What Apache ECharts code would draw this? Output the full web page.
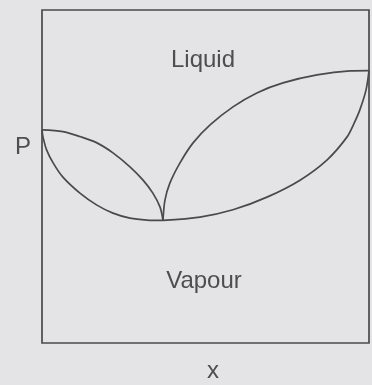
<!DOCTYPE html>
<html>
<head>
<meta charset="utf-8">
<script src="https://cdn.jsdelivr.net/npm/echarts@6/dist/echarts.min.js"></script>
<style>
  html, body { margin: 0; padding: 0; background: #e4e4e6; }
  #chart { width: 372px; height: 385px; }
</style>
</head>
<body>
<div id="chart"></div>
<script>
// Composition x (0..1) and pressure P (arbitrary units) of a binary mixture
// with a minimum-pressure azeotrope.
const axisNames = { x: 'x', y: 'P' };
const regionNames = { upper: 'Liquid', lower: 'Vapour' };

// Left lens: pure component A (x = 0) to the azeotrope
const leftLiquidLine = [
  [0.000, 0.640], [0.064, 0.635], [0.116, 0.620], [0.168, 0.601],
  [0.217, 0.571], [0.269, 0.529], [0.309, 0.489], [0.339, 0.450],
  [0.361, 0.408], [0.370, 0.369]
];
const leftVapourLine = [
  [0.000, 0.640], [0.003, 0.619], [0.014, 0.580], [0.034, 0.541],
  [0.064, 0.498], [0.116, 0.450], [0.168, 0.414], [0.217, 0.390],
  [0.269, 0.375], [0.321, 0.369], [0.370, 0.368]
];

// Right lens: azeotrope to pure component B (x = 1)
const rightLiquidLine = [
  [0.370, 0.369], [0.376, 0.429], [0.391, 0.480], [0.422, 0.541],
  [0.462, 0.601], [0.514, 0.655], [0.584, 0.709], [0.657, 0.751],
  [0.737, 0.781], [0.841, 0.805], [0.942, 0.817], [1.000, 0.818]
];
const rightVapourLine = [
  [0.370, 0.368], [0.483, 0.378], [0.584, 0.400], [0.688, 0.438],
  [0.789, 0.489], [0.872, 0.550], [0.933, 0.619], [0.955, 0.661],
  [0.972, 0.700], [0.991, 0.760], [1.000, 0.818]
];

const ink = '#4a4a4c';
const textInk = '#4e4e50';
const font = '24px "Liberation Sans", Arial, sans-serif';

const curve = (data) => ({
  type: 'line',
  data: data,
  smooth: 0.3,
  showSymbol: false,
  silent: true,
  lineStyle: { color: ink, width: 1.7 },
  animation: false
});

const chart = echarts.init(document.getElementById('chart'), null, { renderer: 'canvas' });
chart.setOption({
  backgroundColor: '#e4e4e6',
  animation: false,
  grid: {
    left: 42, top: 10, right: 3, bottom: 42,
    show: true,
    borderColor: ink,
    borderWidth: 1.7,
    backgroundColor: 'transparent'
  },
  xAxis: {
    type: 'value', min: 0, max: 1,
    axisLine: { show: false }, axisTick: { show: false },
    axisLabel: { show: false }, splitLine: { show: false }
  },
  yAxis: {
    type: 'value', min: 0, max: 1,
    axisLine: { show: false }, axisTick: { show: false },
    axisLabel: { show: false }, splitLine: { show: false }
  },
  graphic: [
    { type: 'text', x: 203, y: 60, silent: true,
      style: { text: regionNames.upper, fill: textInk, font: font, align: 'center', verticalAlign: 'middle' } },
    { type: 'text', x: 204, y: 281, silent: true,
      style: { text: regionNames.lower, fill: textInk, font: font, align: 'center', verticalAlign: 'middle' } },
    { type: 'text', x: 213, y: 371, silent: true,
      style: { text: axisNames.x, fill: textInk, font: font, align: 'center', verticalAlign: 'middle' } },
    { type: 'text', x: 23, y: 147, silent: true,
      style: { text: axisNames.y, fill: textInk, font: font, align: 'center', verticalAlign: 'middle' } }
  ],
  series: [
    curve(leftLiquidLine),
    curve(leftVapourLine),
    curve(rightLiquidLine),
    curve(rightVapourLine)
  ]
});
</script>
</body>
</html>
